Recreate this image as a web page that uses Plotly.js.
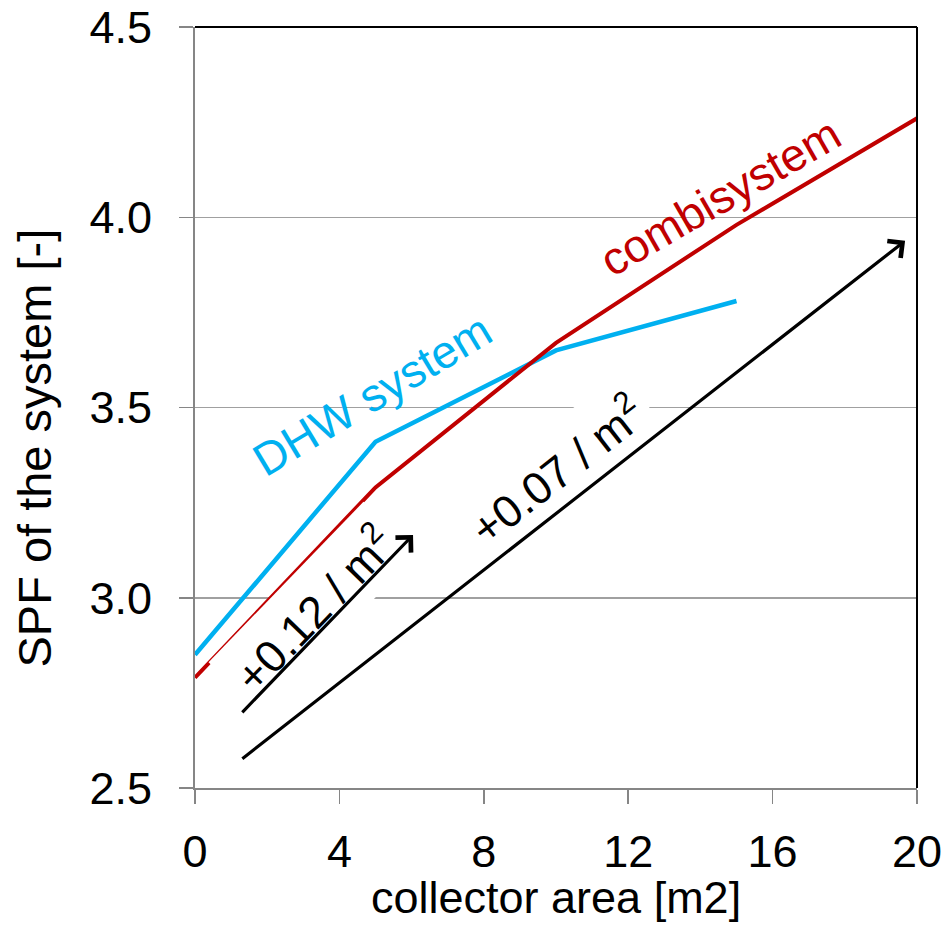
<!DOCTYPE html>
<html>
<head>
<meta charset="utf-8">
<script src="https://cdn.plot.ly/plotly-3.0.1.min.js"></script>
<style>html,body{margin:0;padding:0;background:#fff;}#chart{width:945px;height:927px;}</style>
</head>
<body>
<div id="chart"></div>
<script>
// Data
const collectorArea = [0, 5, 10, 15, 20];
const dhwArea = [0, 5, 10, 15];
const dhwSPF = [2.85, 3.41, 3.65, 3.78];
const combiSPF = [2.79, 3.29, 3.67, 3.98, 4.26];
const xTicks = [0, 4, 8, 12, 16, 20];
const yTicks = [2.5, 3.0, 3.5, 4.0, 4.5];
const yTickText = ['2.5', '3.0', '3.5', '4.0', '4.5'];

// Slope arrows (tail -> head) in data units
const arrowTailX = [1.27, 1.27];
const arrowTailY = [2.695, 2.574];
const arrowHeadX = [6.04, 19.67];
const arrowHeadY = [3.165, 3.938];
const slopeLabels = ['+0.12 / m<sup>2</sup>', '+0.07 / m<sup>2</sup>'];
const slopeLabelX = [3.27, 10.0];
const slopeLabelY = [2.973, 3.338];
const slopeLabelAngle = [-46, -38];

const FONT = 'Liberation Sans, Arial, sans-serif';

const traces = [
  {x: dhwArea, y: dhwSPF, mode: 'lines', name: 'DHW system',
   line: {color: '#00b0f0', width: 4.5}, hoverinfo: 'skip'},
  {x: collectorArea, y: combiSPF, mode: 'lines', name: 'combisystem',
   line: {color: '#c00000', width: 4}, hoverinfo: 'skip'}
];

const annotations = [];
// white-backed slope labels (drawn first so arrows come on top)
for (let i = 0; i < slopeLabels.length; i++) {
  annotations.push({x: slopeLabelX[i], y: slopeLabelY[i], xref: 'x', yref: 'y',
    text: slopeLabels[i], showarrow: false, textangle: slopeLabelAngle[i],
    bgcolor: '#ffffff', borderpad: 8,
    font: {family: FONT, size: 45, color: '#000000'}});
}
annotations.push({x: 4.9, y: 3.533, xref: 'x', yref: 'y', text: 'DHW system',
  showarrow: false, textangle: -31, font: {family: FONT, size: 46, color: '#00b0f0'}});
annotations.push({x: 14.54, y: 4.053, xref: 'x', yref: 'y', text: 'combisystem',
  showarrow: false, textangle: -30, font: {family: FONT, size: 46, color: '#c00000'}});
for (let i = 0; i < arrowHeadX.length; i++) {
  annotations.push({x: arrowHeadX[i], y: arrowHeadY[i], xref: 'x', yref: 'y',
    ax: arrowTailX[i], ay: arrowTailY[i], axref: 'x', ayref: 'y',
    text: '', showarrow: true, arrowhead: 4, arrowsize: 1.3, arrowwidth: 3.2,
    arrowcolor: '#000000', standoff: 0, startstandoff: 0});
}
// axis titles (placed as annotations to match the reference's positions)
annotations.push({xref: 'paper', yref: 'paper', x: -0.222, y: 0.447,
  xanchor: 'center', yanchor: 'middle', showarrow: false, textangle: -90,
  text: 'SPF of the system [-]', font: {family: FONT, size: 47, color: '#000000'}});
annotations.push({xref: 'paper', yref: 'paper', x: 0.5, y: -0.1435,
  xanchor: 'center', yanchor: 'middle', showarrow: false,
  text: 'collector area [m2]', font: {family: FONT, size: 45, color: '#000000'}});

const layout = {
  width: 945, height: 927,
  margin: {l: 195, r: 28, t: 27, b: 139},
  paper_bgcolor: '#ffffff', plot_bgcolor: '#ffffff',
  showlegend: false,
  font: {family: FONT, color: '#000000'},
  xaxis: {
    range: [0, 20], tickmode: 'array', tickvals: xTicks,
    showgrid: false, zeroline: false,
    showline: true, linecolor: '#868686', linewidth: 2,
    ticks: 'outside', ticklen: 14, tickwidth: 1.5, tickcolor: '#868686',
    tickfont: {family: FONT, size: 45, color: '#000000'},
    ticklabelstandoff: 9,
    automargin: false, fixedrange: true
  },
  yaxis: {
    range: [2.5, 4.5], tickmode: 'array', tickvals: yTicks, ticktext: yTickText,
    showgrid: true, gridcolor: '#a0a0a0', gridwidth: 1.5, zeroline: false,
    showline: true, linecolor: '#868686', linewidth: 2,
    ticks: 'outside', ticklen: 14, tickwidth: 1.5, tickcolor: '#868686',
    tickfont: {family: FONT, size: 45, color: '#000000'},
    ticklabelstandoff: 18,
    automargin: false, fixedrange: true
  },
  shapes: [
    {type: 'line', xref: 'paper', yref: 'paper', x0: 0, x1: 1, y0: 1, y1: 1,
     line: {color: '#000000', width: 2}},
    {type: 'line', xref: 'paper', yref: 'paper', x0: 1, x1: 1, y0: 0, y1: 1,
     line: {color: '#000000', width: 2}}
  ],
  annotations: annotations
};

Plotly.newPlot('chart', traces, layout, {displayModeBar: false, staticPlot: true});
</script>
</body>
</html>
